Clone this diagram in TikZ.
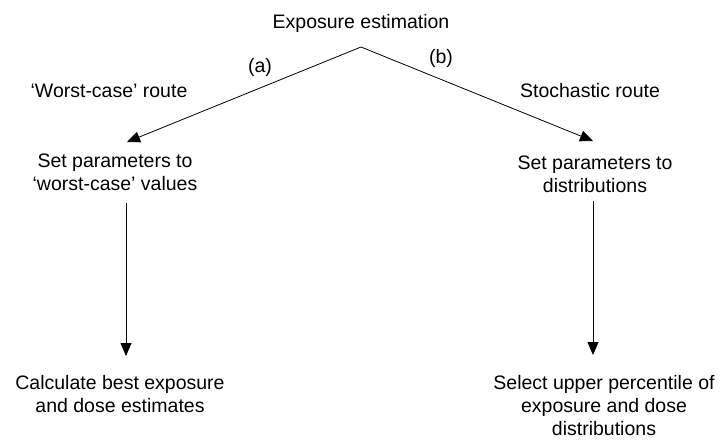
\documentclass[tikz,border=0pt]{standalone}
\usepackage{fontspec}
\setmainfont{Liberation Sans}
\usetikzlibrary{arrows.meta}
\begin{document}
\begin{tikzpicture}[x=1pt,y=-1pt,
  lbl/.style={inner sep=0pt,align=center,font=\fontsize{19.5}{23}\selectfont},
  arr/.style={draw,line width=0.8pt,-{Triangle[length=13pt,width=11pt]}}]
  \useasboundingbox (0,0) rectangle (726,440);
  % titles and labels (multi-line nodes sit on the baseline of their last line)
  \node[lbl,anchor=base] (top) at (361,28) {Exposure estimation};
  \node[lbl,anchor=base] (la) at (260,72) {(a)};
  \node[lbl,anchor=base] (lb) at (441,63) {(b)};
  \node[lbl,anchor=base] (routeA) at (109,97) {`Worst-case' route};
  \node[lbl,anchor=base] (routeB) at (590,97) {Stochastic route};
  % steps of each route
  \node[lbl,anchor=base] (setA) at (115,190) {Set parameters to\\`worst-case' values};
  \node[lbl,anchor=base] (setB) at (595,192) {Set parameters to\\distributions};
  \node[lbl,anchor=base] (calcA) at (120,412) {Calculate best exposure\\and dose estimates};
  \node[lbl,anchor=base] (selB) at (604,435) {Select upper percentile of\\exposure and dose\\distributions};
  % branch point and arrow ends
  \coordinate (apex) at (361,47);
  \coordinate (tipA) at (127,142);
  \coordinate (tipB) at (593,141);
  \coordinate (startA) at (126,203);
  \coordinate (endA) at (126,356);
  \coordinate (startB) at (593,201);
  \coordinate (endB) at (593,355);
  \draw[arr] (apex) -- (tipA);
  \draw[arr] (apex) -- (tipB);
  \draw[arr] (startA) -- (endA);
  \draw[arr] (startB) -- (endB);
\end{tikzpicture}
\end{document}
